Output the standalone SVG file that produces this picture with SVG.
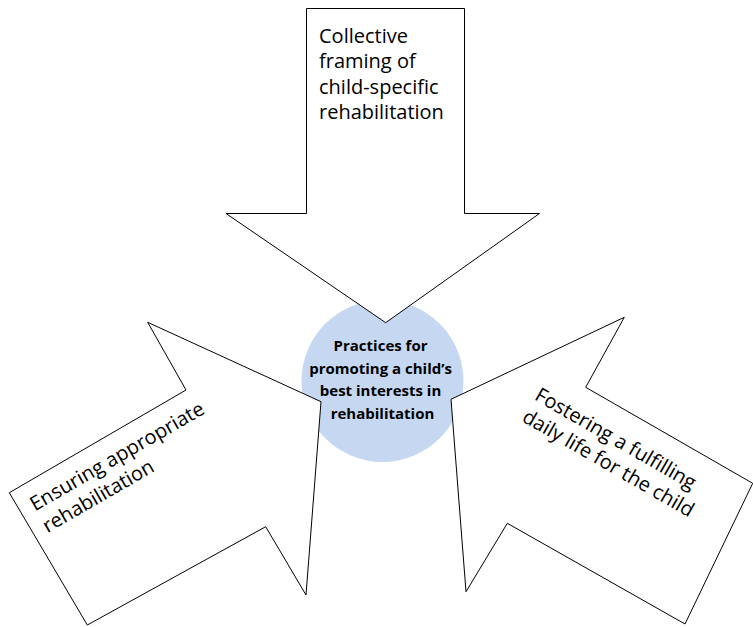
<svg xmlns="http://www.w3.org/2000/svg" width="753" height="627" viewBox="0 0 753 627">
  <style>
    .arrow { fill: #ffffff; stroke: #000000; stroke-width: 1; stroke-linejoin: miter; }
    .hub { fill: #c6d8f1; stroke: none; }
    .label { font-family: "Open Sans", "Noto Sans", "Liberation Sans", sans-serif; font-size: 20px; fill: #000000; }
    .hub-label { font-family: "Open Sans", "Noto Sans", "Liberation Sans", sans-serif; font-size: 15px; font-weight: bold; fill: #000000; text-anchor: middle; }
  </style>
  <rect x="0" y="0" width="753" height="627" fill="#ffffff"/>

  <!-- central hub -->
  <g id="hub">
    <circle class="hub" cx="382.5" cy="381" r="81"/>
    <text class="hub-label">
      <tspan x="382.5" y="350.5">Practices for</tspan>
      <tspan x="382.5" y="373.5">promoting a child’s</tspan>
      <tspan x="382.5" y="396">best interests in</tspan>
      <tspan x="382.5" y="418.5">rehabilitation</tspan>
    </text>
  </g>

  <!-- downward arrow from the top -->
  <g id="collective-framing">
    <polygon class="arrow" points="306.5,8.5 464.5,8.5 464.5,213.5 539.5,213.5 385.7,322.7 226,213.5 306.5,213.5"/>
    <text class="label">
      <tspan x="319" y="43">Collective</tspan>
      <tspan x="319" y="68.3">framing of</tspan>
      <tspan x="319" y="93.6">child-specific</tspan>
      <tspan x="319" y="118.9">rehabilitation</tspan>
    </text>
  </g>

  <!-- arrow from the lower left -->
  <g id="appropriate-rehabilitation">
    <polygon class="arrow" points="147.7,322.3 186,390 9.3,492.7 87.3,625 265.7,526.7 306,595 321,401.7"/>
    <text class="label" transform="translate(35,511.5) rotate(-30)">
      <tspan x="0" y="0">Ensuring appropriate</tspan>
      <tspan x="0" y="25">rehabilitation</tspan>
    </text>
  </g>

  <!-- arrow from the lower right -->
  <g id="fulfilling-daily-life">
    <polygon class="arrow" points="451,399.3 624.3,317.3 585.7,387.3 752.7,483.3 685,624 507.3,523.3 466,591.7"/>
    <text class="label" transform="translate(533.5,399) rotate(30)">
      <tspan x="0" y="0">Fostering a fulfilling</tspan>
      <tspan x="0" y="25">daily life for the child</tspan>
    </text>
  </g>
</svg>
